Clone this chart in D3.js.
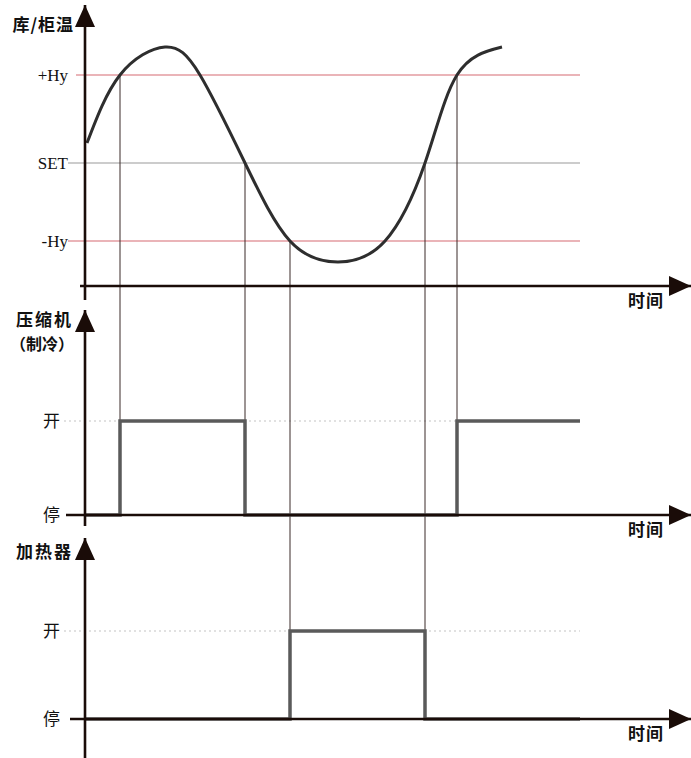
<!DOCTYPE html>
<html>
<head>
<meta charset="utf-8">
<script src="https://cdn.jsdelivr.net/npm/d3@7"></script>
<style>
	body { margin: 0; background: #fff; }
	svg { display: block; }
	.cjk { font-family: "Noto Sans CJK SC", sans-serif; font-weight: 700; fill: #111; }
	.lvl { font-family: "Liberation Serif", "DejaVu Serif", serif; font-size: 17px; fill: #111; }
</style>
</head>
<body>
<svg id="chart"></svg>
<script>
// temperature curve (time units, temperature offset from SET)
var temp_t = [ 2, 35, 80, 115, 160, 205, 253, 300, 340, 372, 417 ];
var temp_v = [ 20, 88, 116, 88, 0, -78, -99, -78, 0, 88, 116 ];

// reference levels
var level_names  = [ "+Hy", "SET", "-Hy" ];
var level_values = [ 88, 0, -78 ];

// compressor (cooling) and heater switching
var comp_t     = [ 0, 35, 160, 372, 495 ];
var comp_state = [ 0, 1, 0, 1, 1 ];
var heat_t     = [ 0, 205, 340, 495 ];
var heat_state = [ 0, 1, 0, 0 ];

// switching moments, with the temperature they happen at and the panel they drop to
var guide_t     = [ 35, 160, 205, 340, 372 ];
var guide_v     = [ 88, 0, -78, 0, 88 ];
var guide_panel = [ "comp", "comp", "heat", "heat", "comp" ];

var state_names = [ "停", "开" ];

var W = 691, H = 758;
var svg = d3.select( "#chart" ).attr( "width", W ).attr( "height", H );

var x  = d3.scaleLinear().domain([ 0, 600 ]).range([ 85, 685 ]);
var yT = d3.scaleLinear().domain([ -123, 158 ]).range([ 286, 5 ]);
var yC = d3.scaleLinear().domain([ 0, 1 ]).range([ 515, 421 ]);
var yH = d3.scaleLinear().domain([ 0, 1 ]).range([ 719, 631 ]);
var panel_scale = { comp : yC, heat : yH };

var axis_col = "#1a0c08";

svg.append( "defs" ).append( "marker" )
	.attr( "id", "arrow" )
	.attr( "viewBox", "0 0 22 20" )
	.attr( "refX", 22 ).attr( "refY", 10 )
	.attr( "markerWidth", 22 ).attr( "markerHeight", 20 )
	.attr( "markerUnits", "userSpaceOnUse" )
	.attr( "orient", "auto" )
	.append( "path" )
		.attr( "d", "M0,0 L22,10 L0,20 Z" )
		.attr( "fill", axis_col );

// reference level lines
var level_col = [ "#eab4b8", "#9a9a9a", "#eab4b8" ];
level_values.forEach(function( v, i ){
	svg.append( "line" )
		.attr( "x1", i == 0 ? 76 : 68 ).attr( "x2", x( 495 ) )
		.attr( "y1", yT( v ) ).attr( "y2", yT( v ) )
		.attr( "stroke", level_col[ i ] )
		.attr( "stroke-width", i == 1 ? 1.2 : 2 );
	svg.append( "text" )
		.attr( "class", "lvl" )
		.attr( "x", 68 ).attr( "y", yT( v ) )
		.attr( "dy", "0.35em" )
		.attr( "text-anchor", "end" )
		.text( level_names[ i ] );
});

// dotted "on" levels
[ yC, yH ].forEach(function( s ){
	svg.append( "line" )
		.attr( "x1", 64 ).attr( "x2", x( 495 ) )
		.attr( "y1", s( 1 ) ).attr( "y2", s( 1 ) )
		.attr( "stroke", "#c4c4c4" )
		.attr( "stroke-width", 1.2 )
		.attr( "stroke-dasharray", "2,3" );
	state_names.forEach(function( n, k ){
		svg.append( "text" )
			.attr( "class", "cjk" )
			.style( "font-weight", 400 )
			.style( "font-size", "17px" )
			.attr( "x", 60 ).attr( "y", s( k ) )
			.attr( "dy", "0.36em" )
			.attr( "text-anchor", "end" )
			.text( n );
	});
});

// vertical guide lines
guide_t.forEach(function( t, i ){
	var s = panel_scale[ guide_panel[ i ] ];
	svg.append( "line" )
		.attr( "x1", x( t ) ).attr( "x2", x( t ) )
		.attr( "y1", yT( guide_v[ i ] ) ).attr( "y2", s( 0 ) )
		.attr( "stroke", "#3a2a28" )
		.attr( "stroke-width", 1 );
});

// switching signals
var step = d3.line()
	.x(function(d){ return x( d[0] ); })
	.curve( d3.curveStepAfter );

svg.append( "path" )
	.attr( "d", step.y(function(d){ return yC( d[1] ); })( d3.zip( comp_t, comp_state ) ) )
	.attr( "fill", "none" )
	.attr( "stroke", "#5a5a5a" )
	.attr( "stroke-width", 3.5 );

svg.append( "path" )
	.attr( "d", step.y(function(d){ return yH( d[1] ); })( d3.zip( heat_t, heat_state ) ) )
	.attr( "fill", "none" )
	.attr( "stroke", "#5a5a5a" )
	.attr( "stroke-width", 3.5 );

// temperature curve
var curve = d3.line()
	.x(function(d){ return x( d[0] ); })
	.y(function(d){ return yT( d[1] ); })
	.curve( d3.curveNatural );

svg.append( "path" )
	.attr( "d", curve( d3.zip( temp_t, temp_v ) ) )
	.attr( "fill", "none" )
	.attr( "stroke", "#2e2e2e" )
	.attr( "stroke-width", 3 );

// axes with arrows
function arrow_line( x1, y1, x2, y2 ){
	svg.append( "line" )
		.attr( "x1", x1 ).attr( "y1", y1 )
		.attr( "x2", x2 ).attr( "y2", y2 )
		.attr( "stroke", axis_col )
		.attr( "stroke-width", 2.6 )
		.attr( "marker-end", "url(#arrow)" );
}

arrow_line( x( 0 ), 300, x( 0 ), 5 );
arrow_line( 80, yT( -123 ), 691, yT( -123 ) );
arrow_line( x( 0 ), 526, x( 0 ), 310 );
arrow_line( 66, yC( 0 ), 691, yC( 0 ) );
arrow_line( x( 0 ), H, x( 0 ), 538 );
arrow_line( 70, yH( 0 ), 691, yH( 0 ) );

// titles
function label( txt, lx, ly, size, anchor, spacing ){
	svg.append( "text" )
		.attr( "class", "cjk" )
		.style( "font-size", size + "px" )
		.style( "letter-spacing", ( spacing || 0 ) + "px" )
		.attr( "x", lx ).attr( "y", ly )
		.attr( "dy", "0.36em" )
		.attr( "text-anchor", anchor || "end" )
		.text( txt );
}

label( "库/柜温", 74, 25, 17, "end", 1 );
label( "压缩机", 73, 320, 17, "end", 2 );
label( "（制冷）", 74, 344, 16 );
label( "加热器", 73, 552, 17, "end", 2 );

[ yT( -123 ), yC( 0 ), yH( 0 ) ].forEach(function( yy ){
	label( "时间", 628, yy + 15, 17, "start", 1 );
});
</script>
</body>
</html>
